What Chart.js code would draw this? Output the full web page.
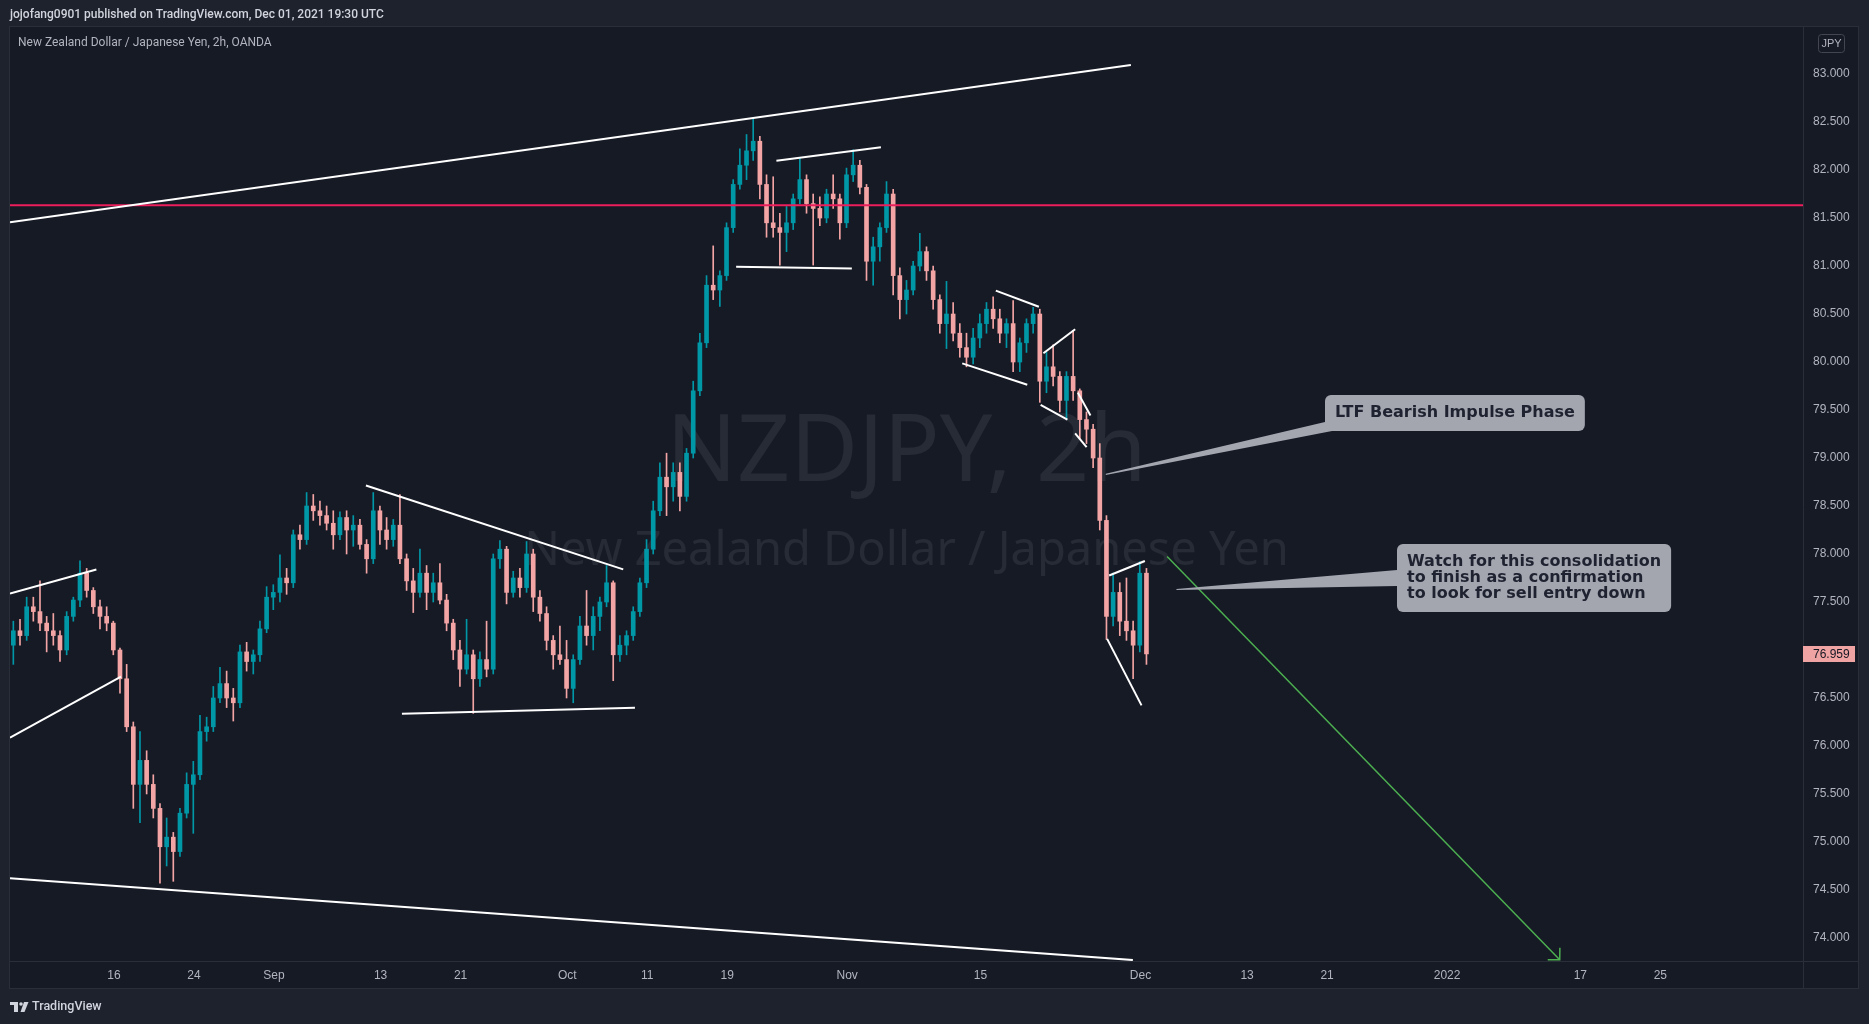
<!DOCTYPE html>
<html>
<head>
<meta charset="utf-8">
<script src="https://cdn.jsdelivr.net/npm/chart.js@4.4.0/dist/chart.umd.min.js"></script>
<style>
  html, body { margin: 0; padding: 0; background: #1e222d; overflow: hidden; }
  canvas { display: block; }
</style>
</head>
<body>
<canvas id="chart" width="1869" height="1024"></canvas>
<script>
// x values are trading-day indices (Aug 4 2021 = 0, weekends skipped), one candle per half day
const firstBarDay = 0.45;
const barStep = 0.5;

const barOpen = [
  77.05, 77.20, 77.15, 77.45, 77.40, 77.28, 77.20, 77.15, 77.00, 77.35,
  77.52, 77.80, 77.62, 77.45, 77.35, 77.28, 77.00, 76.70, 76.20, 75.60,
  75.85, 75.60, 75.35, 74.95, 75.05, 74.90, 75.30, 75.60, 75.70, 76.15,
  76.20, 76.50, 76.65, 76.50, 76.45, 76.98, 76.88, 76.95, 77.22, 77.55,
  77.60, 77.75, 77.70, 78.20, 78.15, 78.50, 78.45, 78.40, 78.32, 78.20,
  78.38, 78.25, 78.30, 78.10, 77.95, 78.45, 78.25, 78.15, 78.30, 77.95,
  77.72, 77.60, 77.80, 77.60, 77.70, 77.52, 77.28, 77.00, 76.80, 76.95,
  76.70, 76.90, 76.80, 77.95, 78.05, 77.60, 77.75, 77.65, 78.00, 77.55,
  77.38, 77.10, 76.95, 76.90, 76.60, 76.90, 77.25, 77.15, 77.35, 77.50,
  77.70, 76.95, 77.05, 77.15, 77.40, 77.70, 78.05, 78.45, 78.80, 78.70,
  78.85, 78.60, 79.05, 79.70, 80.20, 80.80, 80.75, 80.90, 81.40, 81.85,
  82.05, 82.20, 82.30, 81.85, 81.45, 81.40, 81.35, 81.45, 81.70, 81.90,
  81.65, 81.60, 81.50, 81.75, 81.70, 81.45, 81.95, 82.05, 81.82, 81.05,
  81.20, 81.40, 81.75, 80.90, 80.65, 80.75, 81.00, 81.15, 80.95, 80.65,
  80.40, 80.50, 80.30, 80.15, 80.05, 80.25, 80.40, 80.55, 80.45, 80.30,
  80.40, 80.00, 80.20, 80.40, 80.50, 79.80, 79.95, 79.85, 79.60, 79.85,
  79.70, 79.40, 79.30, 79.00, 78.35, 77.35, 77.60, 77.30, 77.20, 77.05,
  77.80
];
const barHigh = [
  77.30, 77.32, 77.55, 77.55, 77.72, 77.35, 77.38, 77.20, 77.40, 77.55,
  77.93, 77.85, 77.65, 77.52, 77.45, 77.30, 77.02, 76.85, 76.25, 76.15,
  75.95, 75.70, 75.40, 75.25, 75.10, 75.35, 75.72, 75.84, 76.32, 76.30,
  76.62, 76.82, 76.78, 76.60, 77.05, 77.08, 77.00, 77.30, 77.66, 77.68,
  77.99, 77.85, 78.25, 78.30, 78.64, 78.62, 78.55, 78.50, 78.45, 78.44,
  78.45, 78.40, 78.36, 78.15, 78.64, 78.50, 78.38, 78.36, 78.62, 78.00,
  77.85, 78.05, 77.88, 77.80, 77.90, 77.58, 77.32, 77.10, 77.32, 77.00,
  76.98, 77.30, 78.00, 78.14, 78.08, 77.82, 77.85, 78.13, 78.05, 77.62,
  77.45, 77.15, 77.25, 77.10, 76.95, 77.35, 77.62, 77.45, 77.55, 77.88,
  77.72, 77.15, 77.20, 77.45, 77.75, 78.15, 78.55, 78.95, 79.05, 78.95,
  78.95, 79.10, 79.80, 80.30, 80.90, 81.21, 80.95, 81.45, 81.90, 82.22,
  82.37, 82.53, 82.35, 81.95, 81.93, 81.55, 81.62, 81.75, 82.12, 81.95,
  81.75, 81.72, 81.80, 81.95, 81.75, 82.02, 82.21, 82.10, 81.85, 81.30,
  81.45, 81.88, 81.80, 80.98, 80.85, 81.05, 81.34, 81.20, 81.00, 80.70,
  80.84, 80.62, 80.40, 80.30, 80.35, 80.50, 80.62, 80.68, 80.55, 80.45,
  80.64, 80.25, 80.45, 80.57, 80.55, 80.10, 80.18, 79.90, 79.90, 80.33,
  79.72, 79.48, 79.35, 79.15, 78.40, 77.80, 77.70, 77.75, 77.30, 77.92,
  77.85
];
const barLow = [
  76.85, 77.05, 77.10, 77.30, 77.20, 76.98, 77.05, 76.88, 76.95, 77.30,
  77.45, 77.55, 77.38, 77.22, 77.20, 76.95, 76.55, 76.15, 75.35, 75.20,
  75.50, 75.25, 74.57, 74.75, 74.59, 74.85, 75.25, 75.09, 75.65, 76.05,
  76.15, 76.45, 76.40, 76.26, 76.40, 76.78, 76.75, 76.88, 77.18, 77.42,
  77.50, 77.58, 77.65, 78.05, 78.10, 78.35, 78.30, 78.25, 78.05, 78.15,
  78.00, 78.08, 78.05, 77.80, 77.90, 78.10, 78.05, 78.08, 77.90, 77.62,
  77.39, 77.55, 77.42, 77.50, 77.48, 77.20, 76.90, 76.62, 76.75, 76.34,
  76.62, 76.72, 76.75, 77.85, 77.48, 77.55, 77.55, 77.60, 77.40, 77.30,
  77.00, 76.80, 76.85, 76.50, 76.45, 76.85, 77.05, 77.00, 77.20, 77.45,
  76.68, 76.88, 76.95, 77.10, 77.35, 77.65, 78.00, 78.40, 78.40, 78.55,
  78.45, 78.55, 79.00, 79.65, 80.15, 80.65, 80.58, 80.85, 81.35, 81.80,
  81.90, 82.10, 81.70, 81.30, 81.30, 81.01, 81.15, 81.38, 81.65, 81.55,
  81.01, 81.42, 81.45, 81.60, 81.28, 81.40, 81.88, 81.75, 80.85, 80.80,
  81.05, 81.35, 80.70, 80.45, 80.50, 80.70, 80.95, 80.85, 80.55, 80.30,
  80.14, 80.22, 80.05, 79.95, 79.98, 80.15, 80.30, 80.35, 80.20, 80.15,
  79.90, 79.90, 80.10, 80.30, 79.58, 79.68, 79.75, 79.48, 79.40, 79.60,
  79.20, 79.15, 78.90, 78.25, 77.11, 77.25, 77.15, 77.10, 76.70, 76.98,
  76.85
];
const barClose = [
  77.20, 77.15, 77.45, 77.40, 77.28, 77.20, 77.15, 77.00, 77.35, 77.52,
  77.80, 77.62, 77.45, 77.35, 77.28, 77.00, 76.70, 76.20, 75.60, 75.85,
  75.60, 75.35, 74.95, 75.05, 74.90, 75.30, 75.60, 75.70, 76.15, 76.20,
  76.50, 76.65, 76.50, 76.45, 76.98, 76.88, 76.95, 77.22, 77.55, 77.60,
  77.75, 77.70, 78.20, 78.15, 78.50, 78.45, 78.40, 78.32, 78.20, 78.38,
  78.25, 78.30, 78.10, 77.95, 78.45, 78.25, 78.15, 78.30, 77.95, 77.72,
  77.60, 77.80, 77.60, 77.70, 77.52, 77.28, 77.00, 76.80, 76.95, 76.70,
  76.90, 76.80, 77.95, 78.05, 77.60, 77.75, 77.65, 78.00, 77.55, 77.38,
  77.10, 76.95, 76.90, 76.60, 76.90, 77.25, 77.15, 77.35, 77.50, 77.70,
  76.95, 77.05, 77.15, 77.40, 77.70, 78.05, 78.45, 78.80, 78.70, 78.85,
  78.60, 79.05, 79.70, 80.20, 80.80, 80.75, 80.90, 81.40, 81.85, 82.05,
  82.20, 82.30, 81.85, 81.45, 81.40, 81.35, 81.45, 81.70, 81.90, 81.65,
  81.60, 81.50, 81.75, 81.70, 81.45, 81.95, 82.05, 81.82, 81.05, 81.20,
  81.40, 81.75, 80.90, 80.65, 80.75, 81.00, 81.15, 80.95, 80.65, 80.40,
  80.50, 80.30, 80.15, 80.05, 80.25, 80.40, 80.55, 80.45, 80.30, 80.40,
  80.00, 80.20, 80.40, 80.50, 79.80, 79.95, 79.85, 79.60, 79.85, 79.70,
  79.40, 79.30, 79.00, 78.35, 77.35, 77.60, 77.30, 77.20, 77.05, 77.80,
  76.959
];

const tickDays = [8, 14, 20, 28, 34, 42, 48, 54, 63, 73, 85, 93, 99, 108, 118, 124];
const tickLabels = ['16', '24', 'Sep', '13', '21', 'Oct', '11', '19', 'Nov', '15', 'Dec', '13', '21', '2022', '17', '25'];

// drawings, as [day, price] end points
const trendLines = [
  [[0.2, 81.457], [84.28, 83.094]],
  [[0.2, 74.621], [84.43, 73.77]],
  [[0.2, 77.588], [6.68, 77.838]],
  [[0.2, 76.087], [8.53, 76.723]],
  [[26.9, 78.714], [46.2, 77.84]],
  [[29.6, 76.337], [47.08, 76.399]],
  [[57.69, 82.096], [65.53, 82.237]],
  [[54.67, 80.992], [63.35, 80.975]],
  [[74.15, 80.744], [77.38, 80.576]],
  [[71.63, 79.986], [76.51, 79.763]],
  [[77.72, 80.091], [80.1, 80.341]],
  [[77.51, 79.554], [79.52, 79.40]],
  [[80.3, 79.681], [81.25, 79.442]],
  [[80.1, 79.257], [80.96, 79.113]],
  [[82.65, 77.776], [85.33, 77.927]],
  [[82.5, 77.116], [85.08, 76.423]]
];
const levelPrice = 81.634;
const projection = [[87.0, 77.974], [116.45, 73.772]];

const calloutText = [
  ['LTF Bearish Impulse Phase'],
  ['Watch for this consolidation', 'to finish as a confirmation', 'to look for sell entry down']
];
const calloutTip = [[82.4, 78.83], [87.7, 77.63]];
const calloutBox = [[98.83, 79.653], [104.22, 78.099]];

const X_MIN = 0.2, X_MAX = 134.7;
const Y_MIN = 73.76, Y_MAX = 83.49;
const UP = '#0097a7', DOWN = '#f3a4a4';
const AXIS_FONT = '"Liberation Sans", Arial, sans-serif';
const CALLOUT_FONT = 'bold 16px "DejaVu Sans", sans-serif';
const CALLOUT_WEDGE = [[[0, 27], [7, 36]], [[0, 26], [0, 42]]];

const lastPrice = barClose[barClose.length - 1];
const barDay = barClose.map((_, i) => firstBarDay + i * barStep);
const candleColors = barClose.map((c, i) => (c >= barOpen[i] ? UP : DOWN));

const tvDecor = {
  id: 'tvDecor',
  beforeDraw(chart) {
    const { ctx, chartArea: a } = chart;
    ctx.save();
    ctx.fillStyle = '#1e222d';
    ctx.fillRect(0, 0, chart.width, chart.height);
    ctx.fillStyle = '#161a25';
    ctx.fillRect(a.left, a.top, a.right + 55 - a.left, a.bottom + 27 - a.top);
    ctx.restore();
  },
  beforeDatasetsDraw(chart) {
    const { ctx, chartArea: a } = chart;
    const cx = (a.left + a.right) / 2;
    const cy = (a.top + a.bottom) / 2;
    ctx.save();
    ctx.fillStyle = 'rgba(255,255,255,0.075)';
    ctx.textAlign = 'center';
    ctx.textBaseline = 'alphabetic';
    ctx.font = '93px "Noto Sans", sans-serif';
    ctx.fillText('NZDJPY, 2h', cx, cy - 13);
    ctx.font = '47px "Noto Sans", sans-serif';
    ctx.fillText('New Zealand Dollar / Japanese Yen', cx, cy + 71);
    ctx.restore();
  },
  afterDatasetsDraw(chart) {
    const { ctx, scales: { x, y } } = chart;
    ctx.save();
    ctx.beginPath();
    ctx.rect(chart.chartArea.left, chart.chartArea.top, chart.chartArea.width, chart.chartArea.height);
    ctx.clip();

    // arrow head of the projection line
    const x1 = x.getPixelForValue(projection[0][0]), y1 = y.getPixelForValue(projection[0][1]);
    const x2 = x.getPixelForValue(projection[1][0]), y2 = y.getPixelForValue(projection[1][1]);
    const ang = Math.atan2(y1 - y2, x1 - x2);
    ctx.strokeStyle = '#4caf50';
    ctx.lineWidth = 1.5;
    ctx.beginPath();
    ctx.moveTo(x2 + Math.cos(ang - Math.PI / 4) * 12, y2 + Math.sin(ang - Math.PI / 4) * 12);
    ctx.lineTo(x2, y2);
    ctx.lineTo(x2 + Math.cos(ang + Math.PI / 4) * 12, y2 + Math.sin(ang + Math.PI / 4) * 12);
    ctx.stroke();

    // callouts
    ctx.font = CALLOUT_FONT;
    calloutText.forEach((lines, k) => {
      const tx = x.getPixelForValue(calloutTip[k][0]), ty = y.getPixelForValue(calloutTip[k][1]);
      const bx = Math.round(x.getPixelForValue(calloutBox[k][0]));
      const by = Math.round(y.getPixelForValue(calloutBox[k][1]));
      const tw = Math.max(...lines.map((l) => ctx.measureText(l).width));
      const bw = tw + 20, bh = 20 + lines.length * 16;
      const w = CALLOUT_WEDGE[k];
      ctx.fillStyle = '#a3a6af';
      ctx.beginPath();
      ctx.moveTo(bx + w[0][0], by + w[0][1]);
      ctx.lineTo(tx, ty - 0.6);
      ctx.lineTo(tx, ty + 0.6);
      ctx.lineTo(bx + w[1][0], by + w[1][1]);
      ctx.closePath();
      ctx.fill();
      ctx.beginPath();
      ctx.roundRect(bx, by, bw, bh, 6);
      ctx.fill();
      ctx.fillStyle = '#1f2230';
      ctx.textAlign = 'left';
      ctx.textBaseline = 'alphabetic';
      lines.forEach((l, i) => ctx.fillText(l, bx + 10, by + 22 + i * 16));
    });
    ctx.restore();
  },
  afterDraw(chart) {
    const { ctx, chartArea: a, scales: { y } } = chart;
    const right = a.right + 55, bottom = a.bottom + 27;
    ctx.save();
    ctx.strokeStyle = '#2a2e39';
    ctx.lineWidth = 1;
    ctx.strokeRect(a.left - 0.5, a.top - 0.5, right - a.left + 1, bottom - a.top + 1);
    ctx.beginPath();
    ctx.moveTo(a.right + 0.5, a.top);
    ctx.lineTo(a.right + 0.5, bottom);
    ctx.moveTo(a.left, a.bottom + 0.5);
    ctx.lineTo(right, a.bottom + 0.5);
    ctx.stroke();

    // header texts
    ctx.textAlign = 'left';
    ctx.textBaseline = 'alphabetic';
    ctx.fillStyle = '#d1d4dc';
    ctx.font = '500 12px Roboto, sans-serif';
    ctx.fillText('jojofang0901 published on TradingView.com, Dec 01, 2021 19:30 UTC', 10, 18);
    ctx.fillStyle = '#b2b5be';
    ctx.font = '12px Roboto, sans-serif';
    ctx.fillText('New Zealand Dollar / Japanese Yen, 2h, OANDA', 18, 46);

    // currency badge
    ctx.strokeStyle = '#434651';
    ctx.beginPath();
    ctx.roundRect(a.right + 15.5, a.top + 7.5, 26, 18, 3);
    ctx.stroke();
    ctx.textAlign = 'center';
    ctx.textBaseline = 'middle';
    ctx.font = `11px ${AXIS_FONT}`;
    ctx.fillText('JPY', a.right + 28.5, a.top + 17);

    // last price label
    const py = Math.round(y.getPixelForValue(lastPrice));
    ctx.fillStyle = '#f0a3a3';
    ctx.fillRect(a.right, py - 8, 52, 16);
    ctx.fillStyle = '#131722';
    ctx.textAlign = 'left';
    ctx.font = `12px ${AXIS_FONT}`;
    ctx.fillText(lastPrice.toFixed(3), a.right + 10, py + 0.5);

    // logo
    const ly = bottom + 14;
    ctx.fillStyle = '#d1d4dc';
    ctx.fillRect(10, ly, 8, 3);
    ctx.fillRect(14, ly, 4, 10);
    ctx.beginPath();
    ctx.arc(21, ly + 2, 1.8, 0, Math.PI * 2);
    ctx.fill();
    ctx.beginPath();
    ctx.moveTo(24, ly);
    ctx.lineTo(28.5, ly);
    ctx.lineTo(24.5, ly + 10);
    ctx.lineTo(20.5, ly + 10);
    ctx.closePath();
    ctx.fill();
    ctx.font = '500 12.5px Roboto, sans-serif';
    ctx.textBaseline = 'middle';
    ctx.fillText('TradingView', 32, ly + 5);
    ctx.restore();
  }
};

const datasets = [
  {
    type: 'bar',
    data: barDay.map((d, i) => ({ x: d, y: [barLow[i], barHigh[i]] })),
    backgroundColor: candleColors,
    barThickness: 1,
    grouped: false,
    order: 3
  },
  {
    type: 'bar',
    data: barDay.map((d, i) => ({ x: d, y: [barOpen[i], barClose[i]] })),
    backgroundColor: candleColors,
    barThickness: 4,
    minBarLength: 1,
    grouped: false,
    order: 2
  },
  {
    type: 'line',
    data: [{ x: X_MIN, y: levelPrice }, { x: X_MAX, y: levelPrice }],
    borderColor: '#ec1f5c',
    borderWidth: 2,
    pointRadius: 0,
    order: 1
  },
  {
    type: 'line',
    data: projection.map(([d, p]) => ({ x: d, y: p })),
    borderColor: '#4caf50',
    borderWidth: 1.5,
    pointRadius: 0,
    order: 0
  }
];
trendLines.forEach((seg) => {
  datasets.push({
    type: 'line',
    data: seg.map(([d, p]) => ({ x: d, y: p })),
    borderColor: '#ffffff',
    borderWidth: 2,
    pointRadius: 0,
    order: 0
  });
});

new Chart(document.getElementById('chart'), {
  type: 'bar',
  data: { datasets },
  options: {
    responsive: false,
    animation: false,
    events: [],
    layout: { padding: { left: 10, top: 27, right: 11, bottom: 36 } },
    plugins: { legend: { display: false }, tooltip: { enabled: false } },
    scales: {
      x: {
        type: 'linear',
        min: X_MIN,
        max: X_MAX,
        offset: false,
        grid: { display: false, drawTicks: false },
        border: { display: false },
        afterBuildTicks: (s) => { s.ticks = tickDays.map((v) => ({ value: v })); },
        afterFit: (s) => { s.height = 27; },
        ticks: {
          autoSkip: false,
          maxRotation: 0,
          padding: 7,
          color: '#b2b5be',
          font: { family: AXIS_FONT, size: 12 },
          callback: (v) => {
            const i = tickDays.indexOf(v);
            return i >= 0 ? tickLabels[i] : '';
          }
        }
      },
      y: {
        type: 'linear',
        position: 'right',
        min: Y_MIN,
        max: Y_MAX,
        grid: { display: false, drawTicks: false },
        border: { display: false },
        afterFit: (s) => { s.width = 55; },
        ticks: {
          stepSize: 0.5,
          includeBounds: false,
          padding: 10,
          color: '#b2b5be',
          font: { family: AXIS_FONT, size: 12 },
          callback: (v) => (Math.abs(v - lastPrice) < 0.2 ? '' : v.toFixed(3))
        }
      }
    }
  },
  plugins: [tvDecor]
});
</script>
</body>
</html>
